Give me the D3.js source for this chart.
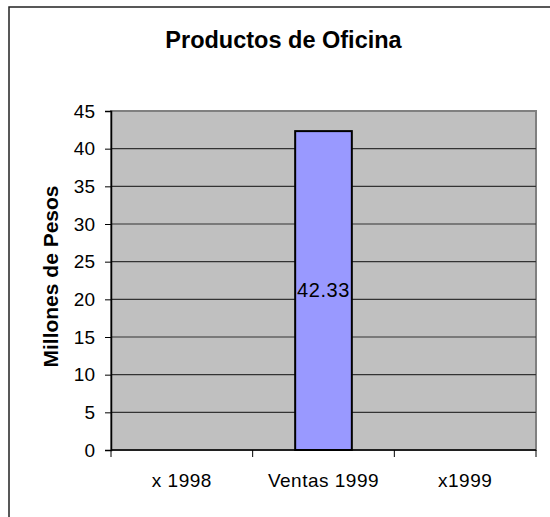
<!DOCTYPE html>
<html>
<head>
<meta charset="utf-8">
<script src="https://cdn.jsdelivr.net/npm/d3@7"></script>
<style>
  body { margin: 0; background: #fff; }
  svg text { font-family: "Liberation Sans", Arial, sans-serif; fill: #000; }
</style>
</head>
<body>
<div id="chart"></div>
<script>
// chart data
const categories = ["x 1998", "Ventas 1999", "x1999"];
const values = [null, 42.33, null];
const yTicks = [0, 5, 10, 15, 20, 25, 30, 35, 40, 45];
const chartTitle = "Productos de Oficina";
const yTitle = "Millones de Pesos";

const W = 550, H = 517;
const plot = { left: 111, top: 111, right: 536, bottom: 450 };

const svg = d3.select("#chart").append("svg")
  .attr("width", W)
  .attr("height", H);

// outer chart frame (right/bottom fall outside the picture)
svg.append("rect")
  .attr("x", 9).attr("y", 7)
  .attr("width", 560).attr("height", 530)
  .attr("fill", "#fff")
  .attr("stroke", "#222")
  .attr("stroke-width", 1.5);

const xScale = d3.scaleBand()
  .domain(categories)
  .range([plot.left, plot.right])
  .paddingInner(0)
  .paddingOuter(0);

const yScale = d3.scaleLinear()
  .domain([0, 45])
  .range([plot.bottom, plot.top]);

// plot area
svg.append("rect")
  .attr("x", plot.left).attr("y", plot.top)
  .attr("width", plot.right - plot.left)
  .attr("height", plot.bottom - plot.top)
  .attr("fill", "#c0c0c0")
  .attr("stroke", "#808080")
  .attr("stroke-width", 2);

// gridlines
svg.append("g")
  .selectAll("line")
  .data(yTicks.filter(d => d > 0 && d < 45))
  .join("line")
  .attr("x1", plot.left).attr("x2", plot.right)
  .attr("y1", d => yScale(d)).attr("y2", d => yScale(d))
  .attr("stroke", "#333")
  .attr("stroke-width", 1.2);

// bars
const bars = categories.map((c, i) => ({ cat: c, value: values[i] }))
  .filter(d => d.value != null);

const barW = xScale.bandwidth() * 0.4;

svg.append("g")
  .selectAll("rect")
  .data(bars)
  .join("rect")
  .attr("x", d => xScale(d.cat) + (xScale.bandwidth() - barW) / 2)
  .attr("y", d => yScale(d.value))
  .attr("width", barW)
  .attr("height", d => yScale(0) - yScale(d.value))
  .attr("fill", "#9999ff")
  .attr("stroke", "#000")
  .attr("stroke-width", 2);

// data labels
svg.append("g")
  .selectAll("text")
  .data(bars)
  .join("text")
  .attr("x", d => xScale(d.cat) + xScale.bandwidth() / 2)
  .attr("y", d => (yScale(d.value) + yScale(0)) / 2)
  .attr("dy", "0.3em")
  .attr("text-anchor", "middle")
  .style("font-size", "20px")
  .style("letter-spacing", "0.6px")
  .text(d => d.value.toFixed(2));

// y axis
const yAxis = svg.append("g")
  .attr("transform", `translate(${plot.left},0)`)
  .call(d3.axisLeft(yScale).tickValues(yTicks).tickSize(6).tickPadding(10));
yAxis.select(".domain").attr("stroke", "#000").attr("stroke-width", 1.5);
yAxis.selectAll(".tick line").attr("stroke", "#000");
yAxis.selectAll(".tick text")
  .style("font-size", "19px")
  .style("font-family", "Liberation Sans, Arial, sans-serif")
  .attr("fill", "#000");

// x axis: ticks at category boundaries
const xAxis = svg.append("g")
  .attr("transform", `translate(0,${plot.bottom})`);
xAxis.append("line")
  .attr("x1", plot.left).attr("x2", plot.right)
  .attr("stroke", "#000").attr("stroke-width", 1.5);
const bounds = categories.map(c => xScale(c)).concat([plot.right]);
xAxis.selectAll("line.tick")
  .data(bounds)
  .join("line")
  .attr("class", "tick")
  .attr("x1", d => d).attr("x2", d => d)
  .attr("y1", 0).attr("y2", 7)
  .attr("stroke", "#000");
xAxis.selectAll("text")
  .data(categories)
  .join("text")
  .attr("x", d => xScale(d) + xScale.bandwidth() / 2)
  .attr("y", 37)
  .attr("text-anchor", "middle")
  .style("font-size", "19px")
  .style("letter-spacing", "0.5px")
  .text(d => d);

// titles
svg.append("text")
  .attr("x", 283.5).attr("y", 48)
  .attr("text-anchor", "middle")
  .style("font-size", "23.5px")
  .style("font-weight", "bold")
  .text(chartTitle);

svg.append("text")
  .attr("transform", `translate(58,${(plot.top + plot.bottom) / 2 - 4}) rotate(-90)`)
  .attr("text-anchor", "middle")
  .style("font-size", "21px")
  .style("font-weight", "bold")
  .text(yTitle);
</script>
</body>
</html>
